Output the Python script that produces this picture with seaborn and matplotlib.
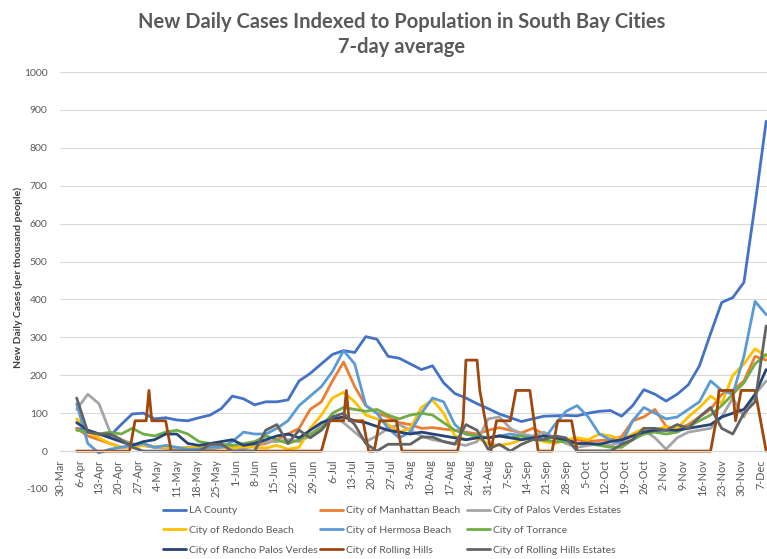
import matplotlib
matplotlib.use("Agg")
import matplotlib.pyplot as plt
import seaborn as sns
import pandas as pd

# sample dates for the city series (every 4 days)
grid_start = "2020-04-05"
n_points = 63

la_county = [60, 55, 45, 40, 70, 98, 100, 85, 88, 82, 80, 88, 95, 112, 145, 138,
             122, 130, 130, 135, 185, 205, 230, 255, 265, 260, 302, 295, 250, 245,
             230, 215, 225, 180, 152, 140, 125, 112, 98, 88, 78, 85, 92, 93, 94, 93,
             100, 105, 107, 92, 120, 162, 150, 132, 150, 175, 225, 310, 392, 405,
             445, 650, 870]
manhattan = [60, 40, 30, 20, 10, 12, 15, 10, 8, 5, 10, 8, 12, 15, 12, 10,
             15, 20, 30, 45, 60, 110, 130, 185, 235, 170, 120, 100, 90, 75,
             70, 60, 62, 58, 55, 50, 45, 55, 62, 55, 48, 60, 45, 35, 28, 30,
             25, 28, 30, 38, 80, 90, 110, 65, 58, 70, 90, 110, 150, 160,
             185, 250, 240]
palos_verdes_est = [110, 150, 125, 50, 30, 20, 15, 10, 10, 5, 8, 0, 5, 10, 10, 5,
                    15, 25, 25, 30, 25, 40, 70, 95, 75, 50, 25, 40, 60, 70,
                    55, 40, 30, 25, 20, 15, 25, 85, 90, 60, 45, 40, 50, 35, 20, 10,
                    15, 20, 15, 25, 40, 55, 35, 5, 35, 50, 55, 60, 90, 140,
                    90, 150, 185]
redondo = [85, 50, 35, 20, 10, 10, 15, 12, 10, 10, 8, 12, 10, 10, 8, 12,
           10, 8, 15, 5, 10, 60, 95, 140, 155, 130, 95, 85, 70, 50,
           60, 115, 135, 100, 40, 30, 35, 20, 15, 20, 30, 35, 25, 20, 30, 35,
           30, 45, 40, 30, 45, 60, 55, 65, 60, 90, 115, 145, 125, 200,
           230, 270, 250]
hermosa = [125, 20, -5, 5, 10, 15, 20, 10, 15, 10, 5, 5, 10, 10, 25, 50,
           45, 45, 60, 80, 120, 145, 170, 210, 265, 230, 120, 100, 60, 35,
           50, 100, 140, 130, 70, 45, 40, 35, 40, 45, 40, 35, 30, 70, 105, 120,
           90, 45, 30, 20, 80, 115, 100, 85, 90, 110, 130, 185, 160, 150,
           250, 395, 360]
torrance = [55, 50, 45, 50, 45, 60, 45, 40, 50, 55, 45, 25, 20, 18, 15, 20,
            25, 40, 30, 20, 30, 45, 60, 100, 115, 110, 105, 110, 95, 85,
            95, 100, 95, 75, 55, 45, 40, 35, 40, 35, 40, 30, 30, 25, 25, 20,
            20, 15, 10, 10, 30, 45, 50, 45, 50, 65, 80, 95, 120, 150,
            180, 230, 255]
rancho_pv = [75, 55, 45, 35, 25, 15, 25, 30, 45, 45, 20, 15, 20, 25, 30, 15,
             20, 30, 40, 45, 35, 55, 75, 85, 90, 80, 75, 65, 55, 50,
             45, 50, 45, 40, 35, 30, 35, 35, 40, 35, 30, 35, 40, 35, 30, 20,
             20, 18, 25, 30, 40, 50, 55, 55, 55, 60, 65, 70, 90, 100,
             110, 150, 215]
rolling_hills_est = [140, 50, 45, 45, 30, 10, 0, 0, 0, 0, 0, 0, 18, 18, 0, 0,
                     0, 55, 70, 20, 55, 35, 55, 90, 100, 70, 20, 0, 18, 18,
                     18, 37, 37, 25, 18, 70, 55, 5, 18, 0, 18, 30, 30, 40, 35, 0,
                     0, 0, 0, 18, 30, 60, 60, 55, 70, 60, 90, 115, 60, 45,
                     100, 130, 330]

# Rolling Hills moves in steps, so it keeps its own change dates
rolling_hills_dates = ["2020-04-05", "2020-04-24", "2020-04-26", "2020-04-30", "2020-05-01",
                       "2020-05-02", "2020-05-07", "2020-05-09", "2020-07-02", "2020-07-05",
                       "2020-07-10", "2020-07-11", "2020-07-12", "2020-07-17", "2020-07-19",
                       "2020-07-21", "2020-07-23", "2020-07-29", "2020-07-31", "2020-08-20",
                       "2020-08-22", "2020-08-23", "2020-08-27", "2020-08-28", "2020-08-30",
                       "2020-09-01", "2020-09-03", "2020-09-08", "2020-09-10", "2020-09-15",
                       "2020-09-18", "2020-09-23", "2020-09-25", "2020-09-30", "2020-10-02",
                       "2020-11-19", "2020-11-21", "2020-11-22", "2020-11-27", "2020-11-28",
                       "2020-11-30", "2020-12-05", "2020-12-07", "2020-12-09"]
rolling_hills = [0, 0, 80, 80, 160, 80, 80, 0, 0, 80,
                 80, 160, 80, 80, 0, 0, 80, 80, 0, 0,
                 80, 240, 240, 160, 80, 0, 80, 80, 160, 160,
                 0, 0, 80, 80, 0, 0, 80, 160, 160, 80,
                 160, 160, 80, 0]

series_names = ["LA County", "City of Manhattan Beach", "City of Palos Verdes Estates",
                "City of Redondo Beach", "City of Hermosa Beach", "City of Torrance",
                "City of Rancho Palos Verdes", "City of Rolling Hills",
                "City of Rolling Hills Estates"]
series_colors = ["#4472C4", "#ED7D31", "#A5A5A5", "#FFC000", "#5B9BD5", "#70AD47",
                 "#264478", "#9E480E", "#636363"]

tick_labels = ["30-Mar", "6-Apr", "13-Apr", "20-Apr", "27-Apr", "4-May", "11-May",
               "18-May", "25-May", "1-Jun", "8-Jun", "15-Jun", "22-Jun", "29-Jun",
               "6-Jul", "13-Jul", "20-Jul", "27-Jul", "3-Aug", "10-Aug", "17-Aug",
               "24-Aug", "31-Aug", "7-Sep", "14-Sep", "21-Sep", "28-Sep", "5-Oct",
               "12-Oct", "19-Oct", "26-Oct", "2-Nov", "9-Nov", "16-Nov", "23-Nov",
               "30-Nov", "7-Dec"]
y_ticks = [-100, 0, 100, 200, 300, 400, 500, 600, 700, 800, 900, 1000]

grid_dates = pd.date_range(grid_start, periods=n_points, freq="4D")
values = [la_county, manhattan, palos_verdes_est, redondo, hermosa, torrance,
          rancho_pv, None, rolling_hills_est]

frames = []
for name, vals in zip(series_names, values):
    if vals is None:
        frames.append(pd.DataFrame({"date": pd.to_datetime(rolling_hills_dates),
                                    "cases": rolling_hills, "series": name}))
    else:
        frames.append(pd.DataFrame({"date": grid_dates, "cases": vals, "series": name}))
df = pd.concat(frames, ignore_index=True)

sns.set_style("white")
plt.rcParams["font.family"] = ["Lato", "DejaVu Sans"]

fig = plt.figure(figsize=(7.67, 5.59), dpi=100)
ax = fig.add_axes([60 / 767, 1 - 489 / 559, 1 - 60 / 767, (489 - 72) / 559])

for name, color in zip(series_names, series_colors):
    sub = df[df["series"] == name]
    sns.lineplot(data=sub, x="date", y="cases", color=color, linewidth=2.0,
                 estimator=None, sort=False, ax=ax, label=name, legend=False)

x0 = pd.Timestamp("2020-03-30")
ax.set_xlim(x0, x0 + pd.Timedelta(days=254.3))
ax.set_ylim(-100, 1000)

tick_dates = pd.date_range("2020-03-30", periods=len(tick_labels), freq="7D")
ax.set_xticks(tick_dates)
ax.set_xticklabels(tick_labels)
ax.set_yticks(y_ticks)
ax.set_yticklabels([str(v) for v in y_ticks])

ax.spines["bottom"].set_position(("data", 0))
ax.spines["bottom"].set_color("#D9D9D9")
for s in ["left", "top", "right"]:
    ax.spines[s].set_visible(False)
ax.tick_params(axis="x", length=4, color="#D9D9D9", labelsize=7.8,
               labelcolor="#595959", pad=2, labelrotation=90)
ax.tick_params(axis="y", length=0, labelsize=7.5, labelcolor="#595959", pad=9)
ax.yaxis.grid(True, color="#D9D9D9", linewidth=0.8)
ax.xaxis.grid(False)
ax.set_axisbelow(True)
ax.set_xlabel("")
ax.set_ylabel("")

fig.text(402 / 767, 1 - 22 / 559, "New Daily Cases Indexed to Population in South Bay Cities",
         ha="center", va="center", fontsize=14.5, fontweight="bold", color="#595959")
fig.text(402 / 767, 1 - 47 / 559, "7-day average",
         ha="center", va="center", fontsize=14.5, fontweight="bold", color="#595959")
fig.text(18 / 767, 1 - 277 / 559, "New Daily Cases (per thousand people)",
         rotation=90, ha="center", va="center", fontsize=7.5, fontweight="bold",
         color="#404040")

handles = ax.get_lines()
col_x = [163, 320, 467]
for c in range(3):
    idx = [c, c + 3, c + 6]
    fig.legend([handles[i] for i in idx], [series_names[i] for i in idx],
               loc="upper left", bbox_to_anchor=(col_x[c] / 767, 1 - 506 / 559),
               frameon=False, fontsize=7.5, labelcolor="#595959", handlelength=2.2,
               handletextpad=0.3, labelspacing=1.0, borderpad=0, borderaxespad=0)

fig.savefig("out.png", dpi=100)
